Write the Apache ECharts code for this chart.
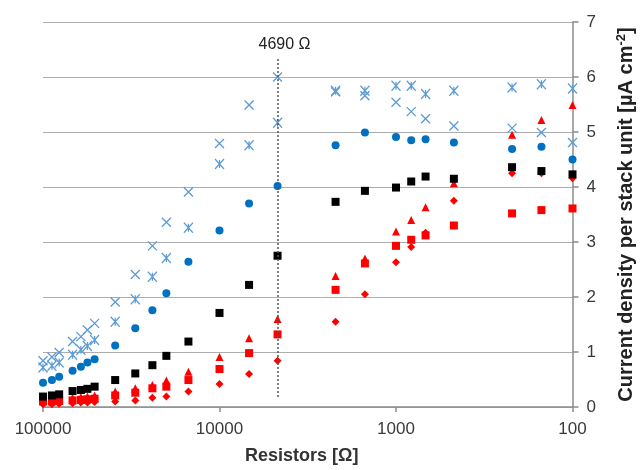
<!DOCTYPE html>
<html>
<head>
<meta charset="utf-8">
<script src="https://cdn.jsdelivr.net/npm/echarts@6/dist/echarts.min.js"></script>
<style>
html,body{margin:0;padding:0;background:#fff;}
#chart{width:644px;height:470px;}
</style>
</head>
<body>
<div id="chart"></div>
<script>
// Resistor values (Ω)
var resistors = [100000, 89000, 81000, 68000, 61000, 56000, 51000, 39000, 30000, 24000, 20000, 15000, 10000, 6800, 4690, 2200, 1500, 1000, 820, 680, 470, 220, 150, 100];
// Current density per stack unit [µA cm-2]
var crossSeries    = [0.84, 0.91, 0.99, 1.19, 1.28, 1.40, 1.52, 1.91, 2.41, 2.93, 3.36, 3.91, 4.79, 5.49, 6.00, 5.73, 5.66, 5.54, 5.37, 5.24, 5.11, 5.07, 4.99, 4.81];
var asteriskSeries = [0.72, 0.75, 0.81, 0.95, 1.04, 1.11, 1.22, 1.55, 1.96, 2.37, 2.71, 3.26, 4.42, 4.76, 5.17, 5.75, 5.75, 5.84, 5.84, 5.69, 5.75, 5.81, 5.87, 5.79];
var circleSeries   = [0.44, 0.49, 0.55, 0.66, 0.73, 0.81, 0.87, 1.12, 1.43, 1.76, 2.07, 2.64, 3.21, 3.70, 4.02, 4.76, 4.99, 4.91, 4.85, 4.87, 4.81, 4.69, 4.73, 4.50];
var blackSquares   = [0.19, 0.21, 0.23, 0.29, 0.31, 0.33, 0.37, 0.49, 0.61, 0.76, 0.93, 1.19, 1.71, 2.22, 2.75, 3.73, 3.93, 3.99, 4.10, 4.19, 4.15, 4.36, 4.29, 4.23];
var redTriangles   = [0.13, 0.14, 0.15, 0.17, 0.18, 0.19, 0.21, 0.28, 0.34, 0.40, 0.48, 0.64, 0.91, 1.25, 1.60, 2.38, 2.70, 3.19, 3.40, 3.63, 4.07, 4.95, 5.22, 5.49];
var redSquares     = [0.10, 0.10, 0.11, 0.12, 0.13, 0.14, 0.15, 0.21, 0.26, 0.34, 0.37, 0.49, 0.69, 0.98, 1.32, 2.13, 2.61, 2.93, 3.04, 3.12, 3.30, 3.52, 3.58, 3.61];
var redDiamonds    = [0.05, 0.05, 0.06, 0.07, 0.08, 0.08, 0.09, 0.10, 0.12, 0.17, 0.19, 0.28, 0.42, 0.60, 0.84, 1.55, 2.05, 2.63, 2.91, 3.17, 3.75, 4.25, 4.25, 4.16];
var markerResistor = 4690;
var markerRange = [0.18, 6.36];

function pts(vals){ return resistors.map(function(r,i){ return [r, vals[i]]; }); }

var FONT = "'Liberation Sans', Arial, sans-serif";
var lightBlue = '#5b9bd5';

var chart = echarts.init(document.getElementById('chart'), null, {renderer:'canvas'});
var option = {
  animation: false,
  backgroundColor: '#fff',
  grid: {left: 43, right: 71, top: 22, bottom: 63, containLabel: false},
  xAxis: {
    type: 'log', logBase: 10, min: 100, max: 100000, inverse: true,
    name: 'Resistors [Ω]', nameLocation: 'middle', nameGap: 40,
    nameTextStyle: {fontFamily: FONT, fontSize: 18, fontWeight: 'bold', color: '#333', padding: [0, 12, 0, 0]},
    axisLine: {show: true, lineStyle: {color: '#8c8c8c', width: 1.5}},
    axisTick: {show: true, length: 5, lineStyle: {color: '#8c8c8c', width: 1.5}},
    minorTick: {show: false},
    axisLabel: {fontFamily: FONT, fontSize: 17, color: '#3a3a3a', margin: 14,
      formatter: function(v){ return String(Math.round(v)); }},
    splitLine: {show: false}
  },
  yAxis: {
    type: 'value', position: 'right', min: 0, max: 7, interval: 1,
    name: 'Current density per stack unit [µA cm{sup|-2}]',
    nameLocation: 'middle', nameGap: 42, nameRotate: 90,
    nameTextStyle: {fontFamily: FONT, fontSize: 20, fontWeight: 'bold', color: '#222',
      rich: {sup: {fontFamily: FONT, fontSize: 13, fontWeight: 'bold', color: '#222', padding: [0,0,10,0]}}},
    axisLine: {show: true, lineStyle: {color: '#8c8c8c', width: 1.5}},
    axisTick: {show: true, length: 6, lineStyle: {color: '#8c8c8c', width: 1.5}},
    axisLabel: {fontFamily: FONT, fontSize: 17, color: '#3a3a3a', margin: 14},
    splitLine: {show: true, lineStyle: {color: '#adadad', width: 1.2}}
  },
  series: [
    {type: 'scatter', name: 'cross', data: pts(crossSeries),
     symbol: 'path://M0,0L10,10M10,0L0,10', symbolSize: 9,
     itemStyle: {color: 'rgba(0,0,0,0)', borderColor: lightBlue, borderWidth: 1.3, opacity: 1}},
    {type: 'scatter', name: 'asterisk', data: pts(asteriskSeries),
     symbol: 'path://M0,0L10,10M10,0L0,10M5,1L5,9', symbolSize: [9, 10],
     itemStyle: {color: 'rgba(0,0,0,0)', borderColor: lightBlue, borderWidth: 1.3, opacity: 1}},
    {type: 'scatter', name: 'circle', data: pts(circleSeries),
     symbol: 'circle', symbolSize: 8, itemStyle: {color: '#0070c0', opacity: 1}},
    {type: 'scatter', name: 'triangle', data: pts(redTriangles),
     symbol: 'triangle', symbolSize: 8, itemStyle: {color: '#ff0000', opacity: 1}},
    {type: 'scatter', name: 'redsquare', data: pts(redSquares),
     symbol: 'rect', symbolSize: 8, itemStyle: {color: '#ff0000', opacity: 1}},
    {type: 'scatter', name: 'diamond', data: pts(redDiamonds),
     symbol: 'diamond', symbolSize: 8, itemStyle: {color: '#ff0000', opacity: 1}},
    {type: 'scatter', name: 'blacksquare', data: pts(blackSquares),
     symbol: 'rect', symbolSize: 8, itemStyle: {color: '#000', opacity: 1},
     markLine: {
       silent: true, symbol: ['none','none'],
       lineStyle: {color: '#555', type: [2, 2], width: 1.5},
       label: {show: true, position: 'end', formatter: markerResistor + ' Ω',
         fontFamily: FONT, fontSize: 16, color: '#222', distance: 5, padding: [0, 0, 0, 14]},
       data: [[{coord: [markerResistor, markerRange[0]]}, {coord: [markerResistor, markerRange[1]]}]]
     }}
  ]
};
chart.setOption(option);
</script>
</body>
</html>
